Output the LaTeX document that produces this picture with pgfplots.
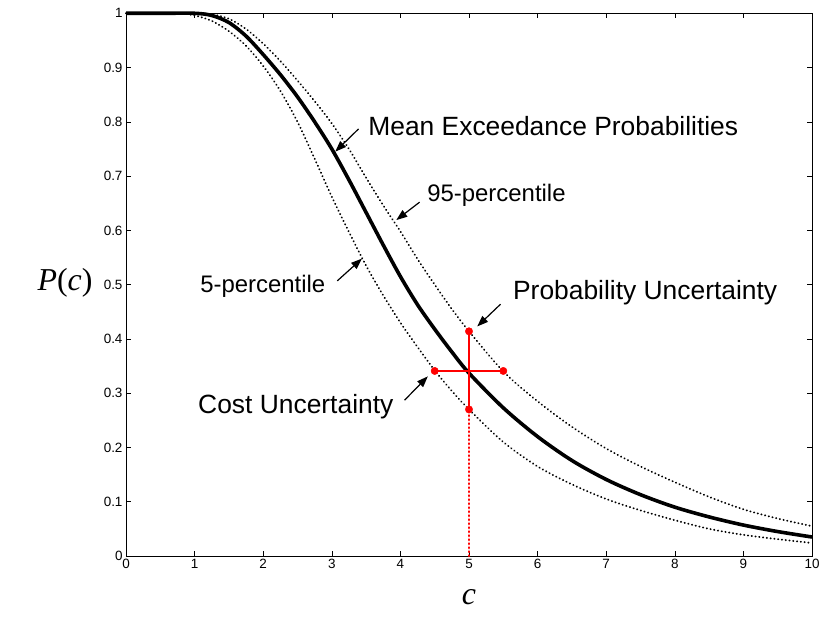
\documentclass[border=0pt]{standalone}
\usepackage{pgfplots}
\pgfplotsset{compat=1.18}
\usepackage{fontspec}
\setmainfont{Liberation Sans}
\newfontfamily\serif{Liberation Serif}
\usetikzlibrary{arrows.meta}
\begin{document}
\begin{tikzpicture}
\begin{axis}[
 scale only axis, width=686bp, height=542.7bp,
 xmin=0,xmax=10,ymin=0,ymax=1,
 xtick={0,1,2,3,4,5,6,7,8,9,10},
 ytick={0,0.1,0.2,0.3,0.4,0.5,0.6,0.7,0.8,0.9,1},
 tick align=inside, major tick length=5bp,
 tick style={black, line width=0.6bp},
 axis line style={line width=0.8bp},
 ticklabel style={font=\fontsize{13.5}{13.5}\selectfont},
 /pgf/number format/assume math mode=true,
 /pgf/number format/fixed,
 clip=false,
]
\coordinate (bl) at (rel axis cs:0,0);
\coordinate (tr) at (rel axis cs:1,1);
% 5-percentile
\addplot[black, line width=1.9bp, line cap=round, dash pattern=on 0.3bp off 3.5bp, smooth] coordinates {
(0,1)(0.75,1)(1,0.996)(1.25,0.986)(1.5,0.967)(1.75,0.94)(2,0.903)(2.25,0.857)(2.5,0.8)(2.75,0.732)(3,0.662)(3.25,0.597)(3.5,0.535)(3.75,0.48)(4,0.43)(4.25,0.385)(4.5,0.342)(4.75,0.304)(5,0.27)(5.5,0.21)(6,0.165)(6.5,0.132)(7,0.105)(7.5,0.084)(8,0.066)(8.5,0.05)(9,0.039)(9.5,0.031)(10,0.024)};
% 95-percentile
\addplot[black, line width=1.9bp, line cap=round, dash pattern=on 0.3bp off 3.5bp, smooth] coordinates {
(0,1)(1,1)(1.25,0.998)(1.5,0.99)(1.75,0.971)(2,0.944)(2.25,0.912)(2.5,0.876)(2.75,0.838)(3,0.797)(3.25,0.75)(3.5,0.697)(3.75,0.646)(4,0.598)(4.25,0.547)(4.5,0.5)(4.75,0.455)(5,0.414)(5.5,0.34)(6,0.285)(6.5,0.238)(7,0.198)(7.5,0.165)(8,0.136)(8.5,0.109)(9,0.086)(9.5,0.069)(10,0.055)};
% mean
\addplot[black, line width=3.6bp, smooth] coordinates {
(0,1)(0.5,1)(1,1)(1.25,0.996)(1.5,0.983)(1.75,0.958)(2,0.924)(2.25,0.887)(2.5,0.846)(2.75,0.8)(3,0.75)(3.25,0.693)(3.5,0.633)(3.75,0.573)(4,0.515)(4.25,0.463)(4.5,0.418)(4.75,0.376)(5,0.337)(5.5,0.273)(6,0.22)(6.5,0.176)(7,0.141)(7.5,0.113)(8,0.09)(8.5,0.072)(9,0.057)(9.5,0.045)(10,0.035)};
% red
\addplot[draw=red, line width=2.8bp, line cap=round, dash pattern=on 0.5bp off 3.5bp] coordinates {(5,0)(5,0.27)};
\addplot[draw=red, line width=1.8bp] coordinates {(5,0.27)(5,0.414)};
\addplot[draw=red, line width=1.8bp] coordinates {(4.5,0.341)(5.5,0.341)};
\addplot[only marks, red, mark=*, mark size=3.7bp] coordinates {(5,0.414)(5,0.27)(4.5,0.341)(5.5,0.341)};
% annotations
\tikzset{ann/.style={font=\fontsize{26.5}{26.5}\selectfont, anchor=west, inner sep=0pt},
 anns/.style={font=\fontsize{24}{24}\selectfont, anchor=west, inner sep=0pt},
 arr/.style={-{Triangle[length=11bp,width=8bp]}, line width=1.2bp}}
\node[ann] at (axis cs:3.53,0.792) {Mean Exceedance Probabilities};
\draw[arr] (axis cs:3.39,0.787) -- (axis cs:3.05,0.745);
\node[anns] at (axis cs:4.39,0.665) {95-percentile};
\draw[arr] (axis cs:4.28,0.652) -- (axis cs:3.94,0.619);
\node[anns] at (axis cs:1.08,0.497) {5-percentile};
\draw[arr] (axis cs:3.08,0.507) -- (axis cs:3.44,0.548);
\node[ann] at (axis cs:1.05,0.275) {Cost Uncertainty};
\draw[arr] (axis cs:4.06,0.287) -- (axis cs:4.4,0.331);
\node[ann] at (axis cs:5.64,0.486) {Probability Uncertainty};
\draw[arr] (axis cs:5.46,0.464) -- (axis cs:5.12,0.423);
\end{axis}
\path (bl) ++(343bp,-41bp) node[font=\serif\fontsize{32}{32}\selectfont] {\itshape c};
\path (bl) ++(-61bp,273bp) node[font=\serif\fontsize{32}{32}\selectfont] {{\itshape P}({\itshape c\/})};
\path (bl) ++(-126bp,-78bp) coordinate (a);
\path (tr) ++(13bp,13.3bp) coordinate (b);
\path (a) rectangle (b);
\end{tikzpicture}
\end{document}
